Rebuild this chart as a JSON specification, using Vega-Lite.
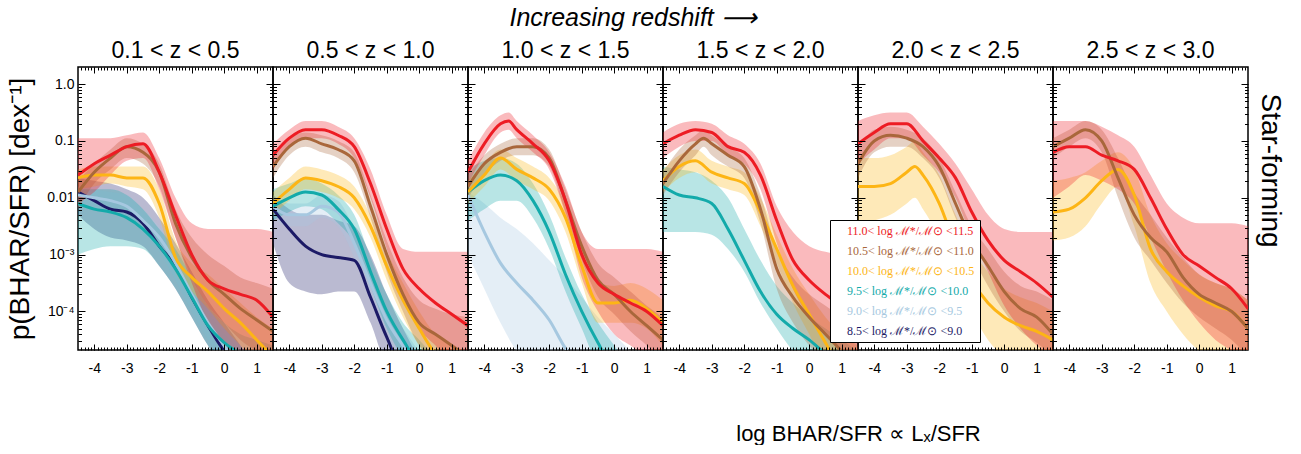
{
"$schema": "https://vega.github.io/schema/vega-lite/v6.json",
"background": "white",
"padding": {"left": 6, "top": 5, "right": 5, "bottom": 0},
"bounds": "flush",
"title": {"text": "Increasing redshift ⟶", "fontStyle": "italic", "fontSize": 25, "font": "Liberation Sans", "fontWeight": "normal", "anchor": "middle", "offset": 8, "dx": -12, "color": "black"},
"data": {"values": [
{"z":1,"m":"8.5","x":-4.5,"p":1.26e-2,"l":5.01e-3,"h":2.24e-2},
{"z":1,"m":"8.5","x":-4,"p":8.91e-3,"l":2.82e-3,"h":2.0e-2},
{"z":1,"m":"8.5","x":-3.5,"p":6.31e-3,"l":2.0e-3,"h":1.78e-2},
{"z":1,"m":"8.5","x":-3,"p":5.62e-3,"l":1.78e-3,"h":1.41e-2},
{"z":1,"m":"8.5","x":-2.5,"p":3.55e-3,"l":1.41e-3,"h":1e-2},
{"z":1,"m":"8.5","x":-2,"p":1.41e-3,"l":6.31e-4,"h":4.47e-3},
{"z":1,"m":"8.5","x":-1.5,"p":6.31e-4,"l":2.51e-4,"h":1.58e-3},
{"z":1,"m":"8.5","x":-1,"p":1.78e-4,"l":7.94e-5,"h":5.01e-4},
{"z":1,"m":"8.5","x":-0.5,"p":5.62e-5,"l":2.51e-5,"h":1.58e-4},
{"z":1,"m":"8.5","x":0,"p":2.0e-5,"l":1e-5,"h":6.31e-5},
{"z":1,"m":"8.5","x":0.5,"p":1e-5,"l":1e-5,"h":2.51e-5},
{"z":1,"m":"8.5","x":1,"p":1e-5,"l":1e-5,"h":1e-5},
{"z":1,"m":"8.5","x":1.5,"p":1e-5,"l":1e-5,"h":1e-5},
{"z":1,"m":"9.0","x":-4.5,"p":1.12e-2,"l":7.08e-3,"h":1.58e-2},
{"z":1,"m":"9.0","x":-4,"p":1e-2,"l":6.31e-3,"h":1.41e-2},
{"z":1,"m":"9.0","x":-3.5,"p":8.91e-3,"l":5.62e-3,"h":1.26e-2},
{"z":1,"m":"9.0","x":-3,"p":7.08e-3,"l":4.47e-3,"h":1.12e-2},
{"z":1,"m":"9.0","x":-2.5,"p":3.98e-3,"l":2.51e-3,"h":6.31e-3},
{"z":1,"m":"9.0","x":-2,"p":2.0e-3,"l":1.12e-3,"h":3.16e-3},
{"z":1,"m":"9.0","x":-1.5,"p":7.08e-4,"l":3.55e-4,"h":1.12e-3},
{"z":1,"m":"9.0","x":-1,"p":2.0e-4,"l":1e-4,"h":3.16e-4},
{"z":1,"m":"9.0","x":-0.5,"p":6.31e-5,"l":3.16e-5,"h":1e-4},
{"z":1,"m":"9.0","x":0,"p":2.51e-5,"l":1.26e-5,"h":3.98e-5},
{"z":1,"m":"9.0","x":0.5,"p":1e-5,"l":1e-5,"h":2.0e-5},
{"z":1,"m":"9.0","x":1,"p":1e-5,"l":1e-5,"h":1e-5},
{"z":1,"m":"9.0","x":1.5,"p":1e-5,"l":1e-5,"h":1e-5},
{"z":1,"m":"9.5","x":-4.5,"p":7.94e-3,"l":1e-3,"h":1.41e-2},
{"z":1,"m":"9.5","x":-4,"p":6.31e-3,"l":1.26e-3,"h":1.41e-2},
{"z":1,"m":"9.5","x":-3.5,"p":5.62e-3,"l":1.41e-3,"h":1.41e-2},
{"z":1,"m":"9.5","x":-3,"p":4.47e-3,"l":1.41e-3,"h":1.12e-2},
{"z":1,"m":"9.5","x":-2.5,"p":2.82e-3,"l":1.26e-3,"h":6.31e-3},
{"z":1,"m":"9.5","x":-2,"p":1.41e-3,"l":6.31e-4,"h":2.82e-3},
{"z":1,"m":"9.5","x":-1.5,"p":5.62e-4,"l":2.51e-4,"h":1.26e-3},
{"z":1,"m":"9.5","x":-1,"p":1.78e-4,"l":7.94e-5,"h":3.98e-4},
{"z":1,"m":"9.5","x":-0.5,"p":5.62e-5,"l":2.51e-5,"h":1.26e-4},
{"z":1,"m":"9.5","x":0,"p":2.82e-5,"l":1e-5,"h":6.31e-5},
{"z":1,"m":"9.5","x":0.5,"p":1.78e-5,"l":1e-5,"h":3.98e-5},
{"z":1,"m":"9.5","x":1,"p":1.26e-5,"l":1e-5,"h":3.16e-5},
{"z":1,"m":"9.5","x":1.5,"p":1e-5,"l":1e-5,"h":2.51e-5},
{"z":1,"m":"10.0","x":-4.5,"p":2.24e-2,"l":1.41e-2,"h":3.16e-2},
{"z":1,"m":"10.0","x":-4,"p":2.51e-2,"l":1.58e-2,"h":3.55e-2},
{"z":1,"m":"10.0","x":-3.5,"p":2.51e-2,"l":1.78e-2,"h":3.55e-2},
{"z":1,"m":"10.0","x":-3,"p":2.24e-2,"l":1.58e-2,"h":3.55e-2},
{"z":1,"m":"10.0","x":-2.5,"p":2.24e-2,"l":1.41e-2,"h":3.55e-2},
{"z":1,"m":"10.0","x":-2,"p":7.94e-3,"l":4.47e-3,"h":1.41e-2},
{"z":1,"m":"10.0","x":-1.5,"p":8.91e-4,"l":5.01e-4,"h":1.78e-3},
{"z":1,"m":"10.0","x":-1,"p":3.98e-4,"l":2.24e-4,"h":7.08e-4},
{"z":1,"m":"10.0","x":-0.5,"p":2.24e-4,"l":1.12e-4,"h":4.47e-4},
{"z":1,"m":"10.0","x":0,"p":1.12e-4,"l":5.01e-5,"h":2.51e-4},
{"z":1,"m":"10.0","x":0.5,"p":6.31e-5,"l":2.51e-5,"h":1.41e-4},
{"z":1,"m":"10.0","x":1,"p":3.16e-5,"l":1.26e-5,"h":7.94e-5},
{"z":1,"m":"10.0","x":1.5,"p":1.58e-5,"l":1e-5,"h":5.01e-5},
{"z":1,"m":"10.5","x":-4.5,"p":1.26e-2,"l":6.31e-3,"h":2.0e-2},
{"z":1,"m":"10.5","x":-4,"p":2.82e-2,"l":1.78e-2,"h":3.98e-2},
{"z":1,"m":"10.5","x":-3.5,"p":5.01e-2,"l":3.16e-2,"h":7.08e-2},
{"z":1,"m":"10.5","x":-3,"p":7.94e-2,"l":5.01e-2,"h":1.12e-1},
{"z":1,"m":"10.5","x":-2.5,"p":6.31e-2,"l":3.98e-2,"h":8.91e-2},
{"z":1,"m":"10.5","x":-2,"p":2.82e-2,"l":1.58e-2,"h":3.98e-2},
{"z":1,"m":"10.5","x":-1.5,"p":3.55e-3,"l":2.0e-3,"h":6.31e-3},
{"z":1,"m":"10.5","x":-1,"p":8.91e-4,"l":3.98e-4,"h":2.0e-3},
{"z":1,"m":"10.5","x":-0.5,"p":3.55e-4,"l":1.26e-4,"h":1e-3},
{"z":1,"m":"10.5","x":0,"p":2.0e-4,"l":6.31e-5,"h":6.31e-4},
{"z":1,"m":"10.5","x":0.5,"p":1.12e-4,"l":3.16e-5,"h":3.98e-4},
{"z":1,"m":"10.5","x":1,"p":7.08e-5,"l":2.0e-5,"h":3.16e-4},
{"z":1,"m":"10.5","x":1.5,"p":4.47e-5,"l":1.26e-5,"h":2.51e-4},
{"z":1,"m":"11.0","x":-4.5,"p":2.51e-2,"l":7.94e-3,"h":1.12e-1},
{"z":1,"m":"11.0","x":-4,"p":3.98e-2,"l":1.26e-2,"h":1.12e-1},
{"z":1,"m":"11.0","x":-3.5,"p":5.62e-2,"l":2.51e-2,"h":1.12e-1},
{"z":1,"m":"11.0","x":-3,"p":7.94e-2,"l":4.47e-2,"h":1.26e-1},
{"z":1,"m":"11.0","x":-2.5,"p":8.91e-2,"l":5.01e-2,"h":1.41e-1},
{"z":1,"m":"11.0","x":-2,"p":2.82e-2,"l":1.41e-2,"h":5.01e-2},
{"z":1,"m":"11.0","x":-1.5,"p":5.01e-3,"l":2.0e-3,"h":1e-2},
{"z":1,"m":"11.0","x":-1,"p":1e-3,"l":3.16e-4,"h":3.55e-3},
{"z":1,"m":"11.0","x":-0.5,"p":3.55e-4,"l":6.31e-5,"h":2.82e-3},
{"z":1,"m":"11.0","x":0,"p":2.51e-4,"l":2.51e-5,"h":2.82e-3},
{"z":1,"m":"11.0","x":0.5,"p":2.0e-4,"l":1.58e-5,"h":2.82e-3},
{"z":1,"m":"11.0","x":1,"p":1.58e-4,"l":1e-5,"h":2.82e-3},
{"z":1,"m":"11.0","x":1.5,"p":7.94e-5,"l":1e-5,"h":2.51e-3},

{"z":2,"m":"8.5","x":-4.5,"p":6.31e-3,"l":1.58e-3,"h":1.12e-2},
{"z":2,"m":"8.5","x":-4,"p":2.82e-3,"l":3.16e-4,"h":6.31e-3},
{"z":2,"m":"8.5","x":-3.5,"p":1.41e-3,"l":2.24e-4,"h":5.01e-3},
{"z":2,"m":"8.5","x":-3,"p":1e-3,"l":2.0e-4,"h":5.01e-3},
{"z":2,"m":"8.5","x":-2.5,"p":8.91e-4,"l":2.24e-4,"h":3.98e-3},
{"z":2,"m":"8.5","x":-2,"p":7.94e-4,"l":2.24e-4,"h":3.16e-3},
{"z":2,"m":"8.5","x":-1.5,"p":1.78e-4,"l":6.31e-5,"h":1e-3},
{"z":2,"m":"8.5","x":-1,"p":3.55e-5,"l":1.26e-5,"h":2.0e-4},
{"z":2,"m":"8.5","x":-0.5,"p":1e-5,"l":1e-5,"h":5.01e-5},
{"z":2,"m":"8.5","x":0,"p":1e-5,"l":1e-5,"h":1.58e-5},
{"z":2,"m":"8.5","x":0.5,"p":1e-5,"l":1e-5,"h":1e-5},
{"z":2,"m":"8.5","x":1,"p":1e-5,"l":1e-5,"h":1e-5},
{"z":2,"m":"8.5","x":1.5,"p":1e-5,"l":1e-5,"h":1e-5},
{"z":2,"m":"9.0","x":-4.5,"p":7.08e-3,"l":4.47e-3,"h":1.12e-2},
{"z":2,"m":"9.0","x":-4,"p":5.01e-3,"l":3.16e-3,"h":7.94e-3},
{"z":2,"m":"9.0","x":-3.5,"p":5.01e-3,"l":3.16e-3,"h":7.94e-3},
{"z":2,"m":"9.0","x":-3,"p":7.08e-3,"l":4.47e-3,"h":1.12e-2},
{"z":2,"m":"9.0","x":-2.5,"p":5.62e-3,"l":3.16e-3,"h":8.91e-3},
{"z":2,"m":"9.0","x":-2,"p":1.58e-3,"l":8.91e-4,"h":2.82e-3},
{"z":2,"m":"9.0","x":-1.5,"p":3.16e-4,"l":1.78e-4,"h":5.62e-4},
{"z":2,"m":"9.0","x":-1,"p":7.08e-5,"l":3.98e-5,"h":1.26e-4},
{"z":2,"m":"9.0","x":-0.5,"p":2.51e-5,"l":1.26e-5,"h":5.01e-5},
{"z":2,"m":"9.0","x":0,"p":1e-5,"l":1e-5,"h":2.0e-5},
{"z":2,"m":"9.0","x":0.5,"p":1e-5,"l":1e-5,"h":1e-5},
{"z":2,"m":"9.0","x":1,"p":1e-5,"l":1e-5,"h":1e-5},
{"z":2,"m":"9.0","x":1.5,"p":1e-5,"l":1e-5,"h":1e-5},
{"z":2,"m":"9.5","x":-4.5,"p":7.08e-3,"l":3.98e-3,"h":1.41e-2},
{"z":2,"m":"9.5","x":-4,"p":1e-2,"l":5.62e-3,"h":1.78e-2},
{"z":2,"m":"9.5","x":-3.5,"p":1.26e-2,"l":7.08e-3,"h":2.24e-2},
{"z":2,"m":"9.5","x":-3,"p":1.12e-2,"l":6.31e-3,"h":1.78e-2},
{"z":2,"m":"9.5","x":-2.5,"p":6.31e-3,"l":3.55e-3,"h":1.12e-2},
{"z":2,"m":"9.5","x":-2,"p":2.82e-3,"l":1.58e-3,"h":5.01e-3},
{"z":2,"m":"9.5","x":-1.5,"p":5.01e-4,"l":2.82e-4,"h":8.91e-4},
{"z":2,"m":"9.5","x":-1,"p":1e-4,"l":5.01e-5,"h":2.0e-4},
{"z":2,"m":"9.5","x":-0.5,"p":3.16e-5,"l":1.58e-5,"h":6.31e-5},
{"z":2,"m":"9.5","x":0,"p":1.26e-5,"l":1e-5,"h":3.16e-5},
{"z":2,"m":"9.5","x":0.5,"p":1e-5,"l":1e-5,"h":1.58e-5},
{"z":2,"m":"9.5","x":1,"p":1e-5,"l":1e-5,"h":1e-5},
{"z":2,"m":"9.5","x":1.5,"p":1e-5,"l":1e-5,"h":1e-5},
{"z":2,"m":"10.0","x":-4.5,"p":7.94e-3,"l":5.01e-3,"h":1.26e-2},
{"z":2,"m":"10.0","x":-4,"p":1.41e-2,"l":8.91e-3,"h":2.24e-2},
{"z":2,"m":"10.0","x":-3.5,"p":2.24e-2,"l":1.41e-2,"h":3.55e-2},
{"z":2,"m":"10.0","x":-3,"p":2.0e-2,"l":1.26e-2,"h":3.16e-2},
{"z":2,"m":"10.0","x":-2.5,"p":1.58e-2,"l":1e-2,"h":2.51e-2},
{"z":2,"m":"10.0","x":-2,"p":1e-2,"l":6.31e-3,"h":1.58e-2},
{"z":2,"m":"10.0","x":-1.5,"p":3.16e-3,"l":2.0e-3,"h":5.01e-3},
{"z":2,"m":"10.0","x":-1,"p":6.31e-4,"l":3.55e-4,"h":1.12e-3},
{"z":2,"m":"10.0","x":-0.5,"p":1.58e-4,"l":7.94e-5,"h":3.16e-4},
{"z":2,"m":"10.0","x":0,"p":5.01e-5,"l":2.51e-5,"h":1e-4},
{"z":2,"m":"10.0","x":0.5,"p":1.78e-5,"l":1e-5,"h":3.98e-5},
{"z":2,"m":"10.0","x":1,"p":1e-5,"l":1e-5,"h":2.51e-5},
{"z":2,"m":"10.0","x":1.5,"p":1e-5,"l":1e-5,"h":2.0e-5},
{"z":2,"m":"10.5","x":-4.5,"p":3.55e-2,"l":2.24e-2,"h":5.01e-2},
{"z":2,"m":"10.5","x":-4,"p":7.94e-2,"l":5.62e-2,"h":1.12e-1},
{"z":2,"m":"10.5","x":-3.5,"p":1.12e-1,"l":7.94e-2,"h":1.41e-1},
{"z":2,"m":"10.5","x":-3,"p":8.91e-2,"l":6.31e-2,"h":1.26e-1},
{"z":2,"m":"10.5","x":-2.5,"p":7.08e-2,"l":5.01e-2,"h":1e-1},
{"z":2,"m":"10.5","x":-2,"p":4.47e-2,"l":2.82e-2,"h":6.31e-2},
{"z":2,"m":"10.5","x":-1.5,"p":7.08e-3,"l":4.47e-3,"h":1.12e-2},
{"z":2,"m":"10.5","x":-1,"p":1e-3,"l":5.01e-4,"h":1.78e-3},
{"z":2,"m":"10.5","x":-0.5,"p":2.0e-4,"l":1e-4,"h":3.98e-4},
{"z":2,"m":"10.5","x":0,"p":6.31e-5,"l":2.51e-5,"h":1.58e-4},
{"z":2,"m":"10.5","x":0.5,"p":3.98e-5,"l":1.58e-5,"h":1.12e-4},
{"z":2,"m":"10.5","x":1,"p":2.51e-5,"l":1e-5,"h":8.91e-5},
{"z":2,"m":"10.5","x":1.5,"p":1.58e-5,"l":1e-5,"h":7.94e-5},
{"z":2,"m":"11.0","x":-4.5,"p":5.62e-2,"l":3.16e-2,"h":8.91e-2},
{"z":2,"m":"11.0","x":-4,"p":1.12e-1,"l":7.94e-2,"h":1.58e-1},
{"z":2,"m":"11.0","x":-3.5,"p":1.58e-1,"l":1.12e-1,"h":2.24e-1},
{"z":2,"m":"11.0","x":-3,"p":1.58e-1,"l":1.12e-1,"h":2.24e-1},
{"z":2,"m":"11.0","x":-2.5,"p":1.26e-1,"l":8.91e-2,"h":1.78e-1},
{"z":2,"m":"11.0","x":-2,"p":7.94e-2,"l":5.01e-2,"h":1.12e-1},
{"z":2,"m":"11.0","x":-1.5,"p":1.78e-2,"l":1e-2,"h":3.16e-2},
{"z":2,"m":"11.0","x":-1,"p":2.82e-3,"l":1.26e-3,"h":5.01e-3},
{"z":2,"m":"11.0","x":-0.5,"p":5.62e-4,"l":2.0e-4,"h":1.26e-3},
{"z":2,"m":"11.0","x":0,"p":2.51e-4,"l":5.01e-5,"h":1.12e-3},
{"z":2,"m":"11.0","x":0.5,"p":1.41e-4,"l":2.51e-5,"h":1.12e-3},
{"z":2,"m":"11.0","x":1,"p":8.91e-5,"l":1.26e-5,"h":1.12e-3},
{"z":2,"m":"11.0","x":1.5,"p":5.62e-5,"l":1e-5,"h":1.12e-3},

{"z":3,"m":"9.0","x":-4.5,"p":1.12e-2,"l":1e-3,"h":1.26e-2},
{"z":3,"m":"9.0","x":-4,"p":2.51e-3,"l":2.51e-4,"h":7.94e-3},
{"z":3,"m":"9.0","x":-3.5,"p":7.08e-4,"l":6.31e-5,"h":4.47e-3},
{"z":3,"m":"9.0","x":-3,"p":3.16e-4,"l":2.0e-5,"h":2.82e-3},
{"z":3,"m":"9.0","x":-2.5,"p":1.58e-4,"l":1e-5,"h":1.58e-3},
{"z":3,"m":"9.0","x":-2,"p":7.08e-5,"l":1e-5,"h":7.94e-4},
{"z":3,"m":"9.0","x":-1.5,"p":2.24e-5,"l":1e-5,"h":3.98e-4},
{"z":3,"m":"9.0","x":-1,"p":1e-5,"l":1e-5,"h":1.78e-4},
{"z":3,"m":"9.0","x":-0.5,"p":1e-5,"l":1e-5,"h":7.94e-5},
{"z":3,"m":"9.0","x":0,"p":1e-5,"l":1e-5,"h":3.98e-5},
{"z":3,"m":"9.0","x":0.5,"p":1e-5,"l":1e-5,"h":2.0e-5},
{"z":3,"m":"9.0","x":1,"p":1e-5,"l":1e-5,"h":1e-5},
{"z":3,"m":"9.0","x":1.5,"p":1e-5,"l":1e-5,"h":1e-5},
{"z":3,"m":"9.5","x":-4.5,"p":1.26e-2,"l":3.98e-3,"h":3.16e-2},
{"z":3,"m":"9.5","x":-4,"p":2.0e-2,"l":6.31e-3,"h":4.47e-2},
{"z":3,"m":"9.5","x":-3.5,"p":2.51e-2,"l":8.91e-3,"h":5.01e-2},
{"z":3,"m":"9.5","x":-3,"p":2.0e-2,"l":8.91e-3,"h":3.98e-2},
{"z":3,"m":"9.5","x":-2.5,"p":8.91e-3,"l":4.47e-3,"h":1.78e-2},
{"z":3,"m":"9.5","x":-2,"p":2.51e-3,"l":1.26e-3,"h":5.01e-3},
{"z":3,"m":"9.5","x":-1.5,"p":4.47e-4,"l":2.24e-4,"h":8.91e-4},
{"z":3,"m":"9.5","x":-1,"p":1e-4,"l":5.01e-5,"h":2.0e-4},
{"z":3,"m":"9.5","x":-0.5,"p":2.82e-5,"l":1.26e-5,"h":6.31e-5},
{"z":3,"m":"9.5","x":0,"p":1e-5,"l":1e-5,"h":2.51e-5},
{"z":3,"m":"9.5","x":0.5,"p":1e-5,"l":1e-5,"h":1e-5},
{"z":3,"m":"9.5","x":1,"p":1e-5,"l":1e-5,"h":1e-5},
{"z":3,"m":"9.5","x":1.5,"p":1e-5,"l":1e-5,"h":1e-5},
{"z":3,"m":"10.0","x":-4.5,"p":1.26e-2,"l":7.94e-3,"h":2.0e-2},
{"z":3,"m":"10.0","x":-4,"p":2.51e-2,"l":1.58e-2,"h":3.98e-2},
{"z":3,"m":"10.0","x":-3.5,"p":5.01e-2,"l":3.16e-2,"h":7.08e-2},
{"z":3,"m":"10.0","x":-3,"p":3.16e-2,"l":2.0e-2,"h":5.01e-2},
{"z":3,"m":"10.0","x":-2.5,"p":2.24e-2,"l":1.41e-2,"h":3.55e-2},
{"z":3,"m":"10.0","x":-2,"p":1.41e-2,"l":8.91e-3,"h":2.24e-2},
{"z":3,"m":"10.0","x":-1.5,"p":4.47e-3,"l":2.51e-3,"h":7.94e-3},
{"z":3,"m":"10.0","x":-1,"p":6.31e-4,"l":3.16e-4,"h":1.26e-3},
{"z":3,"m":"10.0","x":-0.5,"p":1.41e-4,"l":6.31e-5,"h":3.16e-4},
{"z":3,"m":"10.0","x":0,"p":1.41e-4,"l":6.31e-5,"h":2.82e-4},
{"z":3,"m":"10.0","x":0.5,"p":1.58e-4,"l":6.31e-5,"h":3.16e-4},
{"z":3,"m":"10.0","x":1,"p":1.12e-4,"l":5.01e-5,"h":2.51e-4},
{"z":3,"m":"10.0","x":1.5,"p":6.31e-5,"l":2.51e-5,"h":1.58e-4},
{"z":3,"m":"10.5","x":-4.5,"p":1.58e-2,"l":1e-2,"h":2.51e-2},
{"z":3,"m":"10.5","x":-4,"p":3.98e-2,"l":2.51e-2,"h":5.62e-2},
{"z":3,"m":"10.5","x":-3.5,"p":6.31e-2,"l":4.47e-2,"h":8.91e-2},
{"z":3,"m":"10.5","x":-3,"p":7.94e-2,"l":5.62e-2,"h":1.12e-1},
{"z":3,"m":"10.5","x":-2.5,"p":7.94e-2,"l":5.62e-2,"h":1.12e-1},
{"z":3,"m":"10.5","x":-2,"p":5.01e-2,"l":3.55e-2,"h":7.08e-2},
{"z":3,"m":"10.5","x":-1.5,"p":8.91e-3,"l":5.62e-3,"h":1.41e-2},
{"z":3,"m":"10.5","x":-1,"p":1.41e-3,"l":7.94e-4,"h":2.51e-3},
{"z":3,"m":"10.5","x":-0.5,"p":3.55e-4,"l":1.78e-4,"h":7.08e-4},
{"z":3,"m":"10.5","x":0,"p":2.0e-4,"l":8.91e-5,"h":3.98e-4},
{"z":3,"m":"10.5","x":0.5,"p":1e-4,"l":4.47e-5,"h":2.24e-4},
{"z":3,"m":"10.5","x":1,"p":5.62e-5,"l":2.51e-5,"h":1.26e-4},
{"z":3,"m":"10.5","x":1.5,"p":3.16e-5,"l":1.26e-5,"h":7.94e-5},
{"z":3,"m":"11.0","x":-4.5,"p":2.82e-2,"l":1.78e-2,"h":4.47e-2},
{"z":3,"m":"11.0","x":-4,"p":8.91e-2,"l":5.62e-2,"h":1.41e-1},
{"z":3,"m":"11.0","x":-3.5,"p":2.0e-1,"l":1.41e-1,"h":2.82e-1},
{"z":3,"m":"11.0","x":-3.25,"p":2.24e-1,"l":1.58e-1,"h":3.16e-1},
{"z":3,"m":"11.0","x":-3,"p":1.58e-1,"l":1.12e-1,"h":2.24e-1},
{"z":3,"m":"11.0","x":-2.5,"p":8.91e-2,"l":6.31e-2,"h":1.26e-1},
{"z":3,"m":"11.0","x":-2,"p":4.47e-2,"l":3.16e-2,"h":6.31e-2},
{"z":3,"m":"11.0","x":-1.5,"p":8.91e-3,"l":5.01e-3,"h":1.58e-2},
{"z":3,"m":"11.0","x":-1,"p":1e-3,"l":3.98e-4,"h":2.51e-3},
{"z":3,"m":"11.0","x":-0.5,"p":3.16e-4,"l":1e-4,"h":1.26e-3},
{"z":3,"m":"11.0","x":0,"p":2.0e-4,"l":3.98e-5,"h":1.26e-3},
{"z":3,"m":"11.0","x":0.5,"p":1.41e-4,"l":2.51e-5,"h":1.26e-3},
{"z":3,"m":"11.0","x":1,"p":1e-4,"l":1.58e-5,"h":1.26e-3},
{"z":3,"m":"11.0","x":1.5,"p":5.62e-5,"l":1e-5,"h":1.12e-3},

{"z":4,"m":"9.5","x":-4.5,"p":1.58e-2,"l":2.51e-3,"h":3.55e-2},
{"z":4,"m":"9.5","x":-4,"p":1.12e-2,"l":2.51e-3,"h":3.16e-2},
{"z":4,"m":"9.5","x":-3.5,"p":1e-2,"l":2.51e-3,"h":2.82e-2},
{"z":4,"m":"9.5","x":-3,"p":7.94e-3,"l":2.24e-3,"h":2.0e-2},
{"z":4,"m":"9.5","x":-2.5,"p":2.82e-3,"l":1.26e-3,"h":1e-2},
{"z":4,"m":"9.5","x":-2,"p":7.94e-4,"l":5.01e-4,"h":2.82e-3},
{"z":4,"m":"9.5","x":-1.5,"p":2.24e-4,"l":1.41e-4,"h":7.94e-4},
{"z":4,"m":"9.5","x":-1,"p":8.91e-5,"l":5.01e-5,"h":2.82e-4},
{"z":4,"m":"9.5","x":-0.5,"p":5.01e-5,"l":2.0e-5,"h":1.41e-4},
{"z":4,"m":"9.5","x":0,"p":3.16e-5,"l":1e-5,"h":7.94e-5},
{"z":4,"m":"9.5","x":0.5,"p":1.78e-5,"l":1e-5,"h":5.01e-5},
{"z":4,"m":"9.5","x":1,"p":1e-5,"l":1e-5,"h":3.16e-5},
{"z":4,"m":"9.5","x":1.5,"p":1e-5,"l":1e-5,"h":2.0e-5},
{"z":4,"m":"10.0","x":-4.5,"p":2.0e-2,"l":1.26e-2,"h":3.16e-2},
{"z":4,"m":"10.0","x":-4,"p":3.55e-2,"l":2.24e-2,"h":5.62e-2},
{"z":4,"m":"10.0","x":-3.5,"p":4.47e-2,"l":2.82e-2,"h":7.08e-2},
{"z":4,"m":"10.0","x":-3,"p":2.82e-2,"l":1.78e-2,"h":4.47e-2},
{"z":4,"m":"10.0","x":-2.5,"p":2.24e-2,"l":1.41e-2,"h":3.55e-2},
{"z":4,"m":"10.0","x":-2,"p":1.78e-2,"l":1.12e-2,"h":2.82e-2},
{"z":4,"m":"10.0","x":-1.5,"p":5.62e-3,"l":3.16e-3,"h":1e-2},
{"z":4,"m":"10.0","x":-1,"p":1.26e-3,"l":7.08e-4,"h":2.24e-3},
{"z":4,"m":"10.0","x":-0.5,"p":2.82e-4,"l":1.41e-4,"h":5.62e-4},
{"z":4,"m":"10.0","x":0,"p":8.91e-5,"l":3.98e-5,"h":2.0e-4},
{"z":4,"m":"10.0","x":0.5,"p":2.82e-5,"l":1.26e-5,"h":7.94e-5},
{"z":4,"m":"10.0","x":1,"p":1e-5,"l":1e-5,"h":3.98e-5},
{"z":4,"m":"10.0","x":1.5,"p":1e-5,"l":1e-5,"h":2.51e-5},
{"z":4,"m":"10.5","x":-4.5,"p":1.78e-2,"l":1.12e-2,"h":2.82e-2},
{"z":4,"m":"10.5","x":-4,"p":4.47e-2,"l":2.82e-2,"h":7.08e-2},
{"z":4,"m":"10.5","x":-3.5,"p":8.91e-2,"l":5.62e-2,"h":1.26e-1},
{"z":4,"m":"10.5","x":-3.25,"p":1.12e-1,"l":7.94e-2,"h":1.58e-1},
{"z":4,"m":"10.5","x":-3,"p":8.91e-2,"l":5.62e-2,"h":1.26e-1},
{"z":4,"m":"10.5","x":-2.5,"p":5.62e-2,"l":3.55e-2,"h":7.94e-2},
{"z":4,"m":"10.5","x":-2,"p":3.55e-2,"l":2.24e-2,"h":5.01e-2},
{"z":4,"m":"10.5","x":-1.5,"p":6.31e-3,"l":3.55e-3,"h":1.12e-2},
{"z":4,"m":"10.5","x":-1,"p":5.62e-4,"l":2.51e-4,"h":1.26e-3},
{"z":4,"m":"10.5","x":-0.5,"p":1.78e-4,"l":6.31e-5,"h":3.98e-4},
{"z":4,"m":"10.5","x":0,"p":7.94e-5,"l":2.51e-5,"h":2.0e-4},
{"z":4,"m":"10.5","x":0.5,"p":3.98e-5,"l":1.26e-5,"h":1.26e-4},
{"z":4,"m":"10.5","x":1,"p":2.0e-5,"l":1e-5,"h":7.94e-5},
{"z":4,"m":"10.5","x":1.5,"p":1e-5,"l":1e-5,"h":5.01e-5},
{"z":4,"m":"11.0","x":-4.5,"p":8.91e-2,"l":5.01e-2,"h":1.41e-1},
{"z":4,"m":"11.0","x":-4,"p":1.26e-1,"l":7.94e-2,"h":2.0e-1},
{"z":4,"m":"11.0","x":-3.5,"p":1.58e-1,"l":1e-1,"h":2.24e-1},
{"z":4,"m":"11.0","x":-3,"p":1.41e-1,"l":1e-1,"h":2.0e-1},
{"z":4,"m":"11.0","x":-2.5,"p":7.94e-2,"l":5.62e-2,"h":1.26e-1},
{"z":4,"m":"11.0","x":-2,"p":6.31e-2,"l":3.98e-2,"h":8.91e-2},
{"z":4,"m":"11.0","x":-1.5,"p":2.51e-2,"l":1.41e-2,"h":3.98e-2},
{"z":4,"m":"11.0","x":-1,"p":3.98e-3,"l":1.58e-3,"h":7.08e-3},
{"z":4,"m":"11.0","x":-0.5,"p":7.94e-4,"l":2.51e-4,"h":2.51e-3},
{"z":4,"m":"11.0","x":0,"p":3.55e-4,"l":7.94e-5,"h":1.41e-3},
{"z":4,"m":"11.0","x":0.5,"p":2.0e-4,"l":3.98e-5,"h":1.12e-3},
{"z":4,"m":"11.0","x":1,"p":1.26e-4,"l":2.0e-5,"h":1e-3},
{"z":4,"m":"11.0","x":1.5,"p":7.94e-5,"l":1e-5,"h":8.91e-4},

{"z":5,"m":"10.0","x":-4.5,"p":1.58e-2,"l":3.16e-3,"h":5.01e-2},
{"z":5,"m":"10.0","x":-4,"p":1.58e-2,"l":3.98e-3,"h":5.01e-2},
{"z":5,"m":"10.0","x":-3.5,"p":1.78e-2,"l":5.01e-3,"h":5.62e-2},
{"z":5,"m":"10.0","x":-3,"p":2.82e-2,"l":7.94e-3,"h":7.94e-2},
{"z":5,"m":"10.0","x":-2.75,"p":3.55e-2,"l":1e-2,"h":1e-1},
{"z":5,"m":"10.0","x":-2.5,"p":2.51e-2,"l":6.31e-3,"h":6.31e-2},
{"z":5,"m":"10.0","x":-2,"p":7.94e-3,"l":2.0e-3,"h":2.51e-2},
{"z":5,"m":"10.0","x":-1.5,"p":1.41e-3,"l":3.98e-4,"h":5.01e-3},
{"z":5,"m":"10.0","x":-1,"p":3.55e-4,"l":1e-4,"h":1.26e-3},
{"z":5,"m":"10.0","x":-0.5,"p":1.41e-4,"l":3.16e-5,"h":5.01e-4},
{"z":5,"m":"10.0","x":0,"p":7.94e-5,"l":1.58e-5,"h":2.51e-4},
{"z":5,"m":"10.0","x":0.5,"p":5.62e-5,"l":1e-5,"h":1.78e-4},
{"z":5,"m":"10.0","x":1,"p":4.47e-5,"l":1e-5,"h":1.41e-4},
{"z":5,"m":"10.0","x":1.5,"p":3.16e-5,"l":1e-5,"h":1e-4},
{"z":5,"m":"10.5","x":-4.5,"p":3.98e-2,"l":2.24e-2,"h":7.08e-2},
{"z":5,"m":"10.5","x":-4,"p":1e-1,"l":6.31e-2,"h":1.58e-1},
{"z":5,"m":"10.5","x":-3.5,"p":1.26e-1,"l":7.94e-2,"h":1.78e-1},
{"z":5,"m":"10.5","x":-3,"p":1.12e-1,"l":7.94e-2,"h":1.58e-1},
{"z":5,"m":"10.5","x":-2.5,"p":7.94e-2,"l":5.01e-2,"h":1.12e-1},
{"z":5,"m":"10.5","x":-2,"p":3.55e-2,"l":2.24e-2,"h":5.01e-2},
{"z":5,"m":"10.5","x":-1.5,"p":7.94e-3,"l":4.47e-3,"h":1.26e-2},
{"z":5,"m":"10.5","x":-1,"p":1.78e-3,"l":1e-3,"h":3.16e-3},
{"z":5,"m":"10.5","x":-0.5,"p":6.31e-4,"l":2.82e-4,"h":1.26e-3},
{"z":5,"m":"10.5","x":0,"p":2.24e-4,"l":1e-4,"h":5.01e-4},
{"z":5,"m":"10.5","x":0.5,"p":1.12e-4,"l":4.47e-5,"h":2.82e-4},
{"z":5,"m":"10.5","x":1,"p":7.94e-5,"l":2.82e-5,"h":2.24e-4},
{"z":5,"m":"10.5","x":1.5,"p":3.98e-5,"l":1.58e-5,"h":1.58e-4},
{"z":5,"m":"11.0","x":-4.5,"p":8.91e-2,"l":3.98e-2,"h":2.24e-1},
{"z":5,"m":"11.0","x":-4,"p":1.41e-1,"l":7.08e-2,"h":2.82e-1},
{"z":5,"m":"11.0","x":-3.5,"p":2.0e-1,"l":1.12e-1,"h":3.16e-1},
{"z":5,"m":"11.0","x":-3,"p":2.0e-1,"l":1.12e-1,"h":3.16e-1},
{"z":5,"m":"11.0","x":-2.5,"p":1e-1,"l":5.62e-2,"h":1.78e-1},
{"z":5,"m":"11.0","x":-2,"p":5.01e-2,"l":2.82e-2,"h":8.91e-2},
{"z":5,"m":"11.0","x":-1.5,"p":2.24e-2,"l":1e-2,"h":3.98e-2},
{"z":5,"m":"11.0","x":-1,"p":5.62e-3,"l":2.0e-3,"h":1.41e-2},
{"z":5,"m":"11.0","x":-0.5,"p":1.78e-3,"l":5.01e-4,"h":5.01e-3},
{"z":5,"m":"11.0","x":0,"p":7.94e-4,"l":1.26e-4,"h":2.82e-3},
{"z":5,"m":"11.0","x":0.5,"p":5.01e-4,"l":5.01e-5,"h":2.51e-3},
{"z":5,"m":"11.0","x":1,"p":3.16e-4,"l":2.51e-5,"h":2.51e-3},
{"z":5,"m":"11.0","x":1.5,"p":1.78e-4,"l":1.58e-5,"h":2.51e-3},

{"z":6,"m":"10.0","x":-4.5,"p":5.62e-3,"l":1.78e-3,"h":2.0e-2},
{"z":6,"m":"10.0","x":-4,"p":6.31e-3,"l":2.0e-3,"h":2.24e-2},
{"z":6,"m":"10.0","x":-3.5,"p":1e-2,"l":3.16e-3,"h":2.82e-2},
{"z":6,"m":"10.0","x":-3,"p":2.0e-2,"l":7.94e-3,"h":4.47e-2},
{"z":6,"m":"10.0","x":-2.5,"p":3.16e-2,"l":1.58e-2,"h":6.31e-2},
{"z":6,"m":"10.0","x":-2,"p":1.12e-2,"l":3.16e-3,"h":3.16e-2},
{"z":6,"m":"10.0","x":-1.5,"p":1.26e-3,"l":3.16e-4,"h":5.01e-3},
{"z":6,"m":"10.0","x":-1,"p":5.01e-4,"l":1e-4,"h":1.58e-3},
{"z":6,"m":"10.0","x":-0.5,"p":2.82e-4,"l":3.98e-5,"h":7.94e-4},
{"z":6,"m":"10.0","x":0,"p":1.78e-4,"l":2.0e-5,"h":4.47e-4},
{"z":6,"m":"10.0","x":0.5,"p":1.26e-4,"l":1.26e-5,"h":3.16e-4},
{"z":6,"m":"10.0","x":1,"p":1e-4,"l":1e-5,"h":2.51e-4},
{"z":6,"m":"10.0","x":1.5,"p":5.01e-5,"l":1e-5,"h":1.58e-4},
{"z":6,"m":"10.5","x":-4.5,"p":7.94e-2,"l":5.01e-2,"h":1.12e-1},
{"z":6,"m":"10.5","x":-4,"p":1.12e-1,"l":7.94e-2,"h":1.58e-1},
{"z":6,"m":"10.5","x":-3.5,"p":1.58e-1,"l":1.12e-1,"h":2.24e-1},
{"z":6,"m":"10.5","x":-3,"p":1e-1,"l":6.31e-2,"h":1.58e-1},
{"z":6,"m":"10.5","x":-2.5,"p":2.24e-2,"l":1e-2,"h":5.01e-2},
{"z":6,"m":"10.5","x":-2,"p":5.01e-3,"l":2.0e-3,"h":1.26e-2},
{"z":6,"m":"10.5","x":-1.5,"p":2.0e-3,"l":7.94e-4,"h":5.01e-3},
{"z":6,"m":"10.5","x":-1,"p":1.12e-3,"l":3.16e-4,"h":2.0e-3},
{"z":6,"m":"10.5","x":-0.5,"p":3.98e-4,"l":1.41e-4,"h":8.91e-4},
{"z":6,"m":"10.5","x":0,"p":2.0e-4,"l":7.94e-5,"h":4.47e-4},
{"z":6,"m":"10.5","x":0.5,"p":1.41e-4,"l":5.01e-5,"h":3.16e-4},
{"z":6,"m":"10.5","x":1,"p":1e-4,"l":3.16e-5,"h":2.51e-4},
{"z":6,"m":"10.5","x":1.5,"p":5.01e-5,"l":1.58e-5,"h":1.58e-4},
{"z":6,"m":"11.0","x":-4.5,"p":6.31e-2,"l":1e-2,"h":2.24e-1},
{"z":6,"m":"11.0","x":-4,"p":7.94e-2,"l":1.58e-2,"h":2.24e-1},
{"z":6,"m":"11.0","x":-3.5,"p":7.94e-2,"l":2.51e-2,"h":2.24e-1},
{"z":6,"m":"11.0","x":-3,"p":5.62e-2,"l":2.0e-2,"h":1.78e-1},
{"z":6,"m":"11.0","x":-2.5,"p":4.47e-2,"l":1.41e-2,"h":1.26e-1},
{"z":6,"m":"11.0","x":-2,"p":3.16e-2,"l":7.94e-3,"h":7.94e-2},
{"z":6,"m":"11.0","x":-1.5,"p":1e-2,"l":2.0e-3,"h":2.51e-2},
{"z":6,"m":"11.0","x":-1,"p":2.82e-3,"l":5.01e-4,"h":7.94e-3},
{"z":6,"m":"11.0","x":-0.5,"p":1e-3,"l":1.58e-4,"h":4.47e-3},
{"z":6,"m":"11.0","x":0,"p":6.31e-4,"l":6.31e-5,"h":3.55e-3},
{"z":6,"m":"11.0","x":0.5,"p":3.98e-4,"l":3.16e-5,"h":3.55e-3},
{"z":6,"m":"11.0","x":1,"p":2.51e-4,"l":2.0e-5,"h":3.55e-3},
{"z":6,"m":"11.0","x":1.5,"p":1.12e-4,"l":1e-5,"h":3.16e-3}
]},
"spacing": 0,
"hconcat": [
{"width":195,"height":283,"title":"0.1 < z < 0.5","transform":[{"filter":"datum.z == 1"}],
"layer":[
{"mark":{"type":"area","interpolate":"monotone","clip":true,"opacity":0.3},
"encoding":{"x":{"field":"x","type":"quantitative","scale":{"domain":[-4.5,1.5],"nice":false,"zero":false},"axis":{"orient":"bottom","values":[-4,-3,-2,-1,0,1],"ticks":false,"labelExpr":"'' + datum.value","labelPadding":11,"title":null}},
"y":{"field":"l","type":"quantitative","scale":{"type":"log","domain":[2.1e-5,2],"nice":false},"axis":{"orient":"left","values":[0.0001,0.001,0.01,0.1,1],"ticks":false,"labelPadding":4,"labelExpr":"datum.value > 0.5 ? '1.0' : datum.value > 0.05 ? '0.1' : datum.value > 0.005 ? '0.01' : datum.value > 0.0005 ? '10⁻³' : '10⁻⁴'","title":"p(BHAR/SFR)  [dex⁻¹]","titleFontSize":28,"titlePadding":12}},
"y2":{"field":"h"},
"color":{"field":"m","type":"nominal","scale":{"domain":["11.0","10.5","10.0","9.5","9.0","8.5"],"range":["#ED1C24","#A9673B","#FDB515","#13AAAA","#A6C8E0","#1C1A66"]},
"legend":{"orient":"none","legendX":752,"legendY":153,"title":null,"symbolSize":0,"symbolStrokeWidth":0,"symbolOpacity":0,"labelFont":"Liberation Serif","labelFontSize":12,"rowPadding":8,"padding":5,"strokeColor":"black","fillColor":"white","labelOffset":0,
"labelColor":{"expr":"datum.value == '11.0' ? '#ED1C24' : datum.value == '10.5' ? '#A9673B' : datum.value == '10.0' ? '#FDB515' : datum.value == '9.5' ? '#13AAAA' : datum.value == '9.0' ? '#A6C8E0' : '#1C1A66'"},
"labelExpr":"datum.label == '11.0' ? '11.0< log ℳ*/ℳ⊙ <11.5' : datum.label == '10.5' ? '10.5< log ℳ*/ℳ⊙ <11.0' : datum.label == '10.0' ? '10.0< log ℳ*/ℳ⊙ <10.5' : datum.label == '9.5' ? '9.5< log ℳ*/ℳ⊙ <10.0' : datum.label == '9.0' ? '9.0< log ℳ*/ℳ⊙ <9.5' : '8.5< log ℳ*/ℳ⊙ <9.0'"}}}},
{"mark":{"type":"line","interpolate":"monotone","clip":true,"strokeWidth":3},
"encoding":{"x":{"field":"x","type":"quantitative","scale":{"domain":[-4.5,1.5],"nice":false,"zero":false},"axis":{"orient":"bottom","values":[-4,-3,-2,-1,0,1],"labels":false,"tickSize":6,"offset":-6,"title":null,"zindex":1}},
"y":{"field":"p","type":"quantitative","scale":{"type":"log","domain":[2.1e-5,2],"nice":false},"axis":{"orient":"left","values":[0.0001,0.001,0.01,0.1,1],"labels":false,"tickSize":7,"offset":-7,"title":null,"zindex":1}},
"color":{"field":"m","type":"nominal"}}},
{"mark":{"type":"point","opacity":0,"clip":true},
"encoding":{"x":{"field":"x","type":"quantitative","scale":{"domain":[-4.5,1.5],"nice":false,"zero":false},"axis":{"orient":"bottom","values":[-4.4,-4.3,-4.2,-4.1,-4,-3.9,-3.8,-3.7,-3.6,-3.5,-3.4,-3.3,-3.2,-3.1,-3,-2.9,-2.8,-2.7,-2.6,-2.5,-2.4,-2.3,-2.2,-2.1,-2,-1.9,-1.8,-1.7,-1.6,-1.5,-1.4,-1.3,-1.2,-1.1,-1,-0.9,-0.8,-0.7,-0.6,-0.5,-0.4,-0.3,-0.2,-0.1,0,0.1,0.2,0.3,0.4,0.5,0.6,0.7,0.8,0.9,1,1.1,1.2,1.3,1.4],"labels":false,"tickSize":3,"offset":-3,"title":null,"zindex":1}},
"y":{"field":"p","type":"quantitative","scale":{"type":"log","domain":[2.1e-5,2],"nice":false},"axis":{"orient":"left","values":[3e-5,4e-5,5e-5,6e-5,7e-5,8e-5,9e-5,2e-4,3e-4,4e-4,5e-4,6e-4,7e-4,8e-4,9e-4,2e-3,3e-3,4e-3,5e-3,6e-3,7e-3,8e-3,9e-3,0.02,0.03,0.04,0.05,0.06,0.07,0.08,0.09,0.2,0.3,0.4,0.5,0.6,0.7,0.8,0.9],"labels":false,"tickSize":3.5,"offset":-3.5,"title":null,"zindex":1}}}},
{"mark":{"type":"point","opacity":0,"clip":true},
"encoding":{"x":{"field":"x","type":"quantitative","scale":{"domain":[-4.5,1.5],"nice":false,"zero":false},"axis":{"orient":"top","values":[-4,-3,-2,-1,0,1],"labels":false,"tickSize":6,"offset":-6,"title":null,"zindex":1}},
"y":{"field":"p","type":"quantitative","scale":{"type":"log","domain":[2.1e-5,2],"nice":false},"axis":{"orient":"right","values":[0.0001,0.001,0.01,0.1,1],"labels":false,"tickSize":7,"offset":-7,"title":null,"zindex":1}}}},
{"mark":{"type":"point","opacity":0,"clip":true},
"encoding":{"x":{"field":"x","type":"quantitative","scale":{"domain":[-4.5,1.5],"nice":false,"zero":false},"axis":{"orient":"top","values":[-4.4,-4.3,-4.2,-4.1,-4,-3.9,-3.8,-3.7,-3.6,-3.5,-3.4,-3.3,-3.2,-3.1,-3,-2.9,-2.8,-2.7,-2.6,-2.5,-2.4,-2.3,-2.2,-2.1,-2,-1.9,-1.8,-1.7,-1.6,-1.5,-1.4,-1.3,-1.2,-1.1,-1,-0.9,-0.8,-0.7,-0.6,-0.5,-0.4,-0.3,-0.2,-0.1,0,0.1,0.2,0.3,0.4,0.5,0.6,0.7,0.8,0.9,1,1.1,1.2,1.3,1.4],"labels":false,"tickSize":3,"offset":-3,"title":null,"zindex":1}},
"y":{"field":"p","type":"quantitative","scale":{"type":"log","domain":[2.1e-5,2],"nice":false},"axis":{"orient":"right","values":[3e-5,4e-5,5e-5,6e-5,7e-5,8e-5,9e-5,2e-4,3e-4,4e-4,5e-4,6e-4,7e-4,8e-4,9e-4,2e-3,3e-3,4e-3,5e-3,6e-3,7e-3,8e-3,9e-3,0.02,0.03,0.04,0.05,0.06,0.07,0.08,0.09,0.2,0.3,0.4,0.5,0.6,0.7,0.8,0.9],"labels":false,"tickSize":3.5,"offset":-3.5,"title":null,"zindex":1}}}}
],
"resolve":{"axis":{"x":"independent","y":"independent"}}},

{"width":195,"height":283,"title":"0.5 < z < 1.0","transform":[{"filter":"datum.z == 2"}],
"layer":[
{"mark":{"type":"area","interpolate":"monotone","clip":true,"opacity":0.3},
"encoding":{"x":{"field":"x","type":"quantitative","scale":{"domain":[-4.5,1.5],"nice":false,"zero":false},"axis":{"orient":"bottom","values":[-4,-3,-2,-1,0,1],"ticks":false,"labelExpr":"'' + datum.value","labelPadding":11,"title":null}},
"y":{"field":"l","type":"quantitative","scale":{"type":"log","domain":[2.1e-5,2],"nice":false},"axis":null},
"y2":{"field":"h"},
"color":{"field":"m","type":"nominal"}}},
{"mark":{"type":"line","interpolate":"monotone","clip":true,"strokeWidth":3},
"encoding":{"x":{"field":"x","type":"quantitative","scale":{"domain":[-4.5,1.5],"nice":false,"zero":false},"axis":{"orient":"bottom","values":[-4,-3,-2,-1,0,1],"labels":false,"tickSize":6,"offset":-6,"title":null,"zindex":1}},
"y":{"field":"p","type":"quantitative","scale":{"type":"log","domain":[2.1e-5,2],"nice":false},"axis":{"orient":"left","values":[0.0001,0.001,0.01,0.1,1],"labels":false,"tickSize":7,"offset":-7,"title":null,"zindex":1}},
"color":{"field":"m","type":"nominal"}}},
{"mark":{"type":"point","opacity":0,"clip":true},
"encoding":{"x":{"field":"x","type":"quantitative","scale":{"domain":[-4.5,1.5],"nice":false,"zero":false},"axis":{"orient":"bottom","values":[-4.4,-4.3,-4.2,-4.1,-4,-3.9,-3.8,-3.7,-3.6,-3.5,-3.4,-3.3,-3.2,-3.1,-3,-2.9,-2.8,-2.7,-2.6,-2.5,-2.4,-2.3,-2.2,-2.1,-2,-1.9,-1.8,-1.7,-1.6,-1.5,-1.4,-1.3,-1.2,-1.1,-1,-0.9,-0.8,-0.7,-0.6,-0.5,-0.4,-0.3,-0.2,-0.1,0,0.1,0.2,0.3,0.4,0.5,0.6,0.7,0.8,0.9,1,1.1,1.2,1.3,1.4],"labels":false,"tickSize":3,"offset":-3,"title":null,"zindex":1}},
"y":{"field":"p","type":"quantitative","scale":{"type":"log","domain":[2.1e-5,2],"nice":false},"axis":{"orient":"left","values":[3e-5,4e-5,5e-5,6e-5,7e-5,8e-5,9e-5,2e-4,3e-4,4e-4,5e-4,6e-4,7e-4,8e-4,9e-4,2e-3,3e-3,4e-3,5e-3,6e-3,7e-3,8e-3,9e-3,0.02,0.03,0.04,0.05,0.06,0.07,0.08,0.09,0.2,0.3,0.4,0.5,0.6,0.7,0.8,0.9],"labels":false,"tickSize":3.5,"offset":-3.5,"title":null,"zindex":1}}}},
{"mark":{"type":"point","opacity":0,"clip":true},
"encoding":{"x":{"field":"x","type":"quantitative","scale":{"domain":[-4.5,1.5],"nice":false,"zero":false},"axis":{"orient":"top","values":[-4,-3,-2,-1,0,1],"labels":false,"tickSize":6,"offset":-6,"title":null,"zindex":1}},
"y":{"field":"p","type":"quantitative","scale":{"type":"log","domain":[2.1e-5,2],"nice":false},"axis":{"orient":"right","values":[0.0001,0.001,0.01,0.1,1],"labels":false,"tickSize":7,"offset":-7,"title":null,"zindex":1}}}},
{"mark":{"type":"point","opacity":0,"clip":true},
"encoding":{"x":{"field":"x","type":"quantitative","scale":{"domain":[-4.5,1.5],"nice":false,"zero":false},"axis":{"orient":"top","values":[-4.4,-4.3,-4.2,-4.1,-4,-3.9,-3.8,-3.7,-3.6,-3.5,-3.4,-3.3,-3.2,-3.1,-3,-2.9,-2.8,-2.7,-2.6,-2.5,-2.4,-2.3,-2.2,-2.1,-2,-1.9,-1.8,-1.7,-1.6,-1.5,-1.4,-1.3,-1.2,-1.1,-1,-0.9,-0.8,-0.7,-0.6,-0.5,-0.4,-0.3,-0.2,-0.1,0,0.1,0.2,0.3,0.4,0.5,0.6,0.7,0.8,0.9,1,1.1,1.2,1.3,1.4],"labels":false,"tickSize":3,"offset":-3,"title":null,"zindex":1}},
"y":{"field":"p","type":"quantitative","scale":{"type":"log","domain":[2.1e-5,2],"nice":false},"axis":{"orient":"right","values":[3e-5,4e-5,5e-5,6e-5,7e-5,8e-5,9e-5,2e-4,3e-4,4e-4,5e-4,6e-4,7e-4,8e-4,9e-4,2e-3,3e-3,4e-3,5e-3,6e-3,7e-3,8e-3,9e-3,0.02,0.03,0.04,0.05,0.06,0.07,0.08,0.09,0.2,0.3,0.4,0.5,0.6,0.7,0.8,0.9],"labels":false,"tickSize":3.5,"offset":-3.5,"title":null,"zindex":1}}}}
],
"resolve":{"axis":{"x":"independent","y":"independent"}}},

{"width":195,"height":283,"title":"1.0 < z < 1.5","transform":[{"filter":"datum.z == 3"}],
"layer":[
{"mark":{"type":"area","interpolate":"monotone","clip":true,"opacity":0.3},
"encoding":{"x":{"field":"x","type":"quantitative","scale":{"domain":[-4.5,1.5],"nice":false,"zero":false},"axis":{"orient":"bottom","values":[-4,-3,-2,-1,0,1],"ticks":false,"labelExpr":"'' + datum.value","labelPadding":11,"title":null}},
"y":{"field":"l","type":"quantitative","scale":{"type":"log","domain":[2.1e-5,2],"nice":false},"axis":null},
"y2":{"field":"h"},
"color":{"field":"m","type":"nominal"}}},
{"mark":{"type":"line","interpolate":"monotone","clip":true,"strokeWidth":3},
"encoding":{"x":{"field":"x","type":"quantitative","scale":{"domain":[-4.5,1.5],"nice":false,"zero":false},"axis":{"orient":"bottom","values":[-4,-3,-2,-1,0,1],"labels":false,"tickSize":6,"offset":-6,"title":null,"zindex":1}},
"y":{"field":"p","type":"quantitative","scale":{"type":"log","domain":[2.1e-5,2],"nice":false},"axis":{"orient":"left","values":[0.0001,0.001,0.01,0.1,1],"labels":false,"tickSize":7,"offset":-7,"title":null,"zindex":1}},
"color":{"field":"m","type":"nominal"}}},
{"mark":{"type":"point","opacity":0,"clip":true},
"encoding":{"x":{"field":"x","type":"quantitative","scale":{"domain":[-4.5,1.5],"nice":false,"zero":false},"axis":{"orient":"bottom","values":[-4.4,-4.3,-4.2,-4.1,-4,-3.9,-3.8,-3.7,-3.6,-3.5,-3.4,-3.3,-3.2,-3.1,-3,-2.9,-2.8,-2.7,-2.6,-2.5,-2.4,-2.3,-2.2,-2.1,-2,-1.9,-1.8,-1.7,-1.6,-1.5,-1.4,-1.3,-1.2,-1.1,-1,-0.9,-0.8,-0.7,-0.6,-0.5,-0.4,-0.3,-0.2,-0.1,0,0.1,0.2,0.3,0.4,0.5,0.6,0.7,0.8,0.9,1,1.1,1.2,1.3,1.4],"labels":false,"tickSize":3,"offset":-3,"title":null,"zindex":1}},
"y":{"field":"p","type":"quantitative","scale":{"type":"log","domain":[2.1e-5,2],"nice":false},"axis":{"orient":"left","values":[3e-5,4e-5,5e-5,6e-5,7e-5,8e-5,9e-5,2e-4,3e-4,4e-4,5e-4,6e-4,7e-4,8e-4,9e-4,2e-3,3e-3,4e-3,5e-3,6e-3,7e-3,8e-3,9e-3,0.02,0.03,0.04,0.05,0.06,0.07,0.08,0.09,0.2,0.3,0.4,0.5,0.6,0.7,0.8,0.9],"labels":false,"tickSize":3.5,"offset":-3.5,"title":null,"zindex":1}}}},
{"mark":{"type":"point","opacity":0,"clip":true},
"encoding":{"x":{"field":"x","type":"quantitative","scale":{"domain":[-4.5,1.5],"nice":false,"zero":false},"axis":{"orient":"top","values":[-4,-3,-2,-1,0,1],"labels":false,"tickSize":6,"offset":-6,"title":null,"zindex":1}},
"y":{"field":"p","type":"quantitative","scale":{"type":"log","domain":[2.1e-5,2],"nice":false},"axis":{"orient":"right","values":[0.0001,0.001,0.01,0.1,1],"labels":false,"tickSize":7,"offset":-7,"title":null,"zindex":1}}}},
{"mark":{"type":"point","opacity":0,"clip":true},
"encoding":{"x":{"field":"x","type":"quantitative","scale":{"domain":[-4.5,1.5],"nice":false,"zero":false},"axis":{"orient":"top","values":[-4.4,-4.3,-4.2,-4.1,-4,-3.9,-3.8,-3.7,-3.6,-3.5,-3.4,-3.3,-3.2,-3.1,-3,-2.9,-2.8,-2.7,-2.6,-2.5,-2.4,-2.3,-2.2,-2.1,-2,-1.9,-1.8,-1.7,-1.6,-1.5,-1.4,-1.3,-1.2,-1.1,-1,-0.9,-0.8,-0.7,-0.6,-0.5,-0.4,-0.3,-0.2,-0.1,0,0.1,0.2,0.3,0.4,0.5,0.6,0.7,0.8,0.9,1,1.1,1.2,1.3,1.4],"labels":false,"tickSize":3,"offset":-3,"title":null,"zindex":1}},
"y":{"field":"p","type":"quantitative","scale":{"type":"log","domain":[2.1e-5,2],"nice":false},"axis":{"orient":"right","values":[3e-5,4e-5,5e-5,6e-5,7e-5,8e-5,9e-5,2e-4,3e-4,4e-4,5e-4,6e-4,7e-4,8e-4,9e-4,2e-3,3e-3,4e-3,5e-3,6e-3,7e-3,8e-3,9e-3,0.02,0.03,0.04,0.05,0.06,0.07,0.08,0.09,0.2,0.3,0.4,0.5,0.6,0.7,0.8,0.9],"labels":false,"tickSize":3.5,"offset":-3.5,"title":null,"zindex":1}}}}
],
"resolve":{"axis":{"x":"independent","y":"independent"}}},

{"width":195,"height":283,"title":"1.5 < z < 2.0","transform":[{"filter":"datum.z == 4"}],
"layer":[
{"mark":{"type":"area","interpolate":"monotone","clip":true,"opacity":0.3},
"encoding":{"x":{"field":"x","type":"quantitative","scale":{"domain":[-4.5,1.5],"nice":false,"zero":false},"axis":{"orient":"bottom","values":[-4,-3,-2,-1,0,1],"ticks":false,"labelExpr":"'' + datum.value","labelPadding":11,"title":"log BHAR/SFR ∝ Lₓ/SFR","titleFontSize":22,"titlePadding":48,"titleX":195,"titleAlign":"center"}},
"y":{"field":"l","type":"quantitative","scale":{"type":"log","domain":[2.1e-5,2],"nice":false},"axis":null},
"y2":{"field":"h"},
"color":{"field":"m","type":"nominal"}}},
{"mark":{"type":"line","interpolate":"monotone","clip":true,"strokeWidth":3},
"encoding":{"x":{"field":"x","type":"quantitative","scale":{"domain":[-4.5,1.5],"nice":false,"zero":false},"axis":{"orient":"bottom","values":[-4,-3,-2,-1,0,1],"labels":false,"tickSize":6,"offset":-6,"title":null,"zindex":1}},
"y":{"field":"p","type":"quantitative","scale":{"type":"log","domain":[2.1e-5,2],"nice":false},"axis":{"orient":"left","values":[0.0001,0.001,0.01,0.1,1],"labels":false,"tickSize":7,"offset":-7,"title":null,"zindex":1}},
"color":{"field":"m","type":"nominal"}}},
{"mark":{"type":"point","opacity":0,"clip":true},
"encoding":{"x":{"field":"x","type":"quantitative","scale":{"domain":[-4.5,1.5],"nice":false,"zero":false},"axis":{"orient":"bottom","values":[-4.4,-4.3,-4.2,-4.1,-4,-3.9,-3.8,-3.7,-3.6,-3.5,-3.4,-3.3,-3.2,-3.1,-3,-2.9,-2.8,-2.7,-2.6,-2.5,-2.4,-2.3,-2.2,-2.1,-2,-1.9,-1.8,-1.7,-1.6,-1.5,-1.4,-1.3,-1.2,-1.1,-1,-0.9,-0.8,-0.7,-0.6,-0.5,-0.4,-0.3,-0.2,-0.1,0,0.1,0.2,0.3,0.4,0.5,0.6,0.7,0.8,0.9,1,1.1,1.2,1.3,1.4],"labels":false,"tickSize":3,"offset":-3,"title":null,"zindex":1}},
"y":{"field":"p","type":"quantitative","scale":{"type":"log","domain":[2.1e-5,2],"nice":false},"axis":{"orient":"left","values":[3e-5,4e-5,5e-5,6e-5,7e-5,8e-5,9e-5,2e-4,3e-4,4e-4,5e-4,6e-4,7e-4,8e-4,9e-4,2e-3,3e-3,4e-3,5e-3,6e-3,7e-3,8e-3,9e-3,0.02,0.03,0.04,0.05,0.06,0.07,0.08,0.09,0.2,0.3,0.4,0.5,0.6,0.7,0.8,0.9],"labels":false,"tickSize":3.5,"offset":-3.5,"title":null,"zindex":1}}}},
{"mark":{"type":"point","opacity":0,"clip":true},
"encoding":{"x":{"field":"x","type":"quantitative","scale":{"domain":[-4.5,1.5],"nice":false,"zero":false},"axis":{"orient":"top","values":[-4,-3,-2,-1,0,1],"labels":false,"tickSize":6,"offset":-6,"title":null,"zindex":1}},
"y":{"field":"p","type":"quantitative","scale":{"type":"log","domain":[2.1e-5,2],"nice":false},"axis":{"orient":"right","values":[0.0001,0.001,0.01,0.1,1],"labels":false,"tickSize":7,"offset":-7,"title":null,"zindex":1}}}},
{"mark":{"type":"point","opacity":0,"clip":true},
"encoding":{"x":{"field":"x","type":"quantitative","scale":{"domain":[-4.5,1.5],"nice":false,"zero":false},"axis":{"orient":"top","values":[-4.4,-4.3,-4.2,-4.1,-4,-3.9,-3.8,-3.7,-3.6,-3.5,-3.4,-3.3,-3.2,-3.1,-3,-2.9,-2.8,-2.7,-2.6,-2.5,-2.4,-2.3,-2.2,-2.1,-2,-1.9,-1.8,-1.7,-1.6,-1.5,-1.4,-1.3,-1.2,-1.1,-1,-0.9,-0.8,-0.7,-0.6,-0.5,-0.4,-0.3,-0.2,-0.1,0,0.1,0.2,0.3,0.4,0.5,0.6,0.7,0.8,0.9,1,1.1,1.2,1.3,1.4],"labels":false,"tickSize":3,"offset":-3,"title":null,"zindex":1}},
"y":{"field":"p","type":"quantitative","scale":{"type":"log","domain":[2.1e-5,2],"nice":false},"axis":{"orient":"right","values":[3e-5,4e-5,5e-5,6e-5,7e-5,8e-5,9e-5,2e-4,3e-4,4e-4,5e-4,6e-4,7e-4,8e-4,9e-4,2e-3,3e-3,4e-3,5e-3,6e-3,7e-3,8e-3,9e-3,0.02,0.03,0.04,0.05,0.06,0.07,0.08,0.09,0.2,0.3,0.4,0.5,0.6,0.7,0.8,0.9],"labels":false,"tickSize":3.5,"offset":-3.5,"title":null,"zindex":1}}}}
],
"resolve":{"axis":{"x":"independent","y":"independent"}}},

{"width":195,"height":283,"title":"2.0 < z < 2.5","transform":[{"filter":"datum.z == 5"}],
"layer":[
{"mark":{"type":"area","interpolate":"monotone","clip":true,"opacity":0.3},
"encoding":{"x":{"field":"x","type":"quantitative","scale":{"domain":[-4.5,1.5],"nice":false,"zero":false},"axis":{"orient":"bottom","values":[-4,-3,-2,-1,0,1],"ticks":false,"labelExpr":"'' + datum.value","labelPadding":11,"title":null}},
"y":{"field":"l","type":"quantitative","scale":{"type":"log","domain":[2.1e-5,2],"nice":false},"axis":null},
"y2":{"field":"h"},
"color":{"field":"m","type":"nominal"}}},
{"mark":{"type":"line","interpolate":"monotone","clip":true,"strokeWidth":3},
"encoding":{"x":{"field":"x","type":"quantitative","scale":{"domain":[-4.5,1.5],"nice":false,"zero":false},"axis":{"orient":"bottom","values":[-4,-3,-2,-1,0,1],"labels":false,"tickSize":6,"offset":-6,"title":null,"zindex":1}},
"y":{"field":"p","type":"quantitative","scale":{"type":"log","domain":[2.1e-5,2],"nice":false},"axis":{"orient":"left","values":[0.0001,0.001,0.01,0.1,1],"labels":false,"tickSize":7,"offset":-7,"title":null,"zindex":1}},
"color":{"field":"m","type":"nominal"}}},
{"mark":{"type":"point","opacity":0,"clip":true},
"encoding":{"x":{"field":"x","type":"quantitative","scale":{"domain":[-4.5,1.5],"nice":false,"zero":false},"axis":{"orient":"bottom","values":[-4.4,-4.3,-4.2,-4.1,-4,-3.9,-3.8,-3.7,-3.6,-3.5,-3.4,-3.3,-3.2,-3.1,-3,-2.9,-2.8,-2.7,-2.6,-2.5,-2.4,-2.3,-2.2,-2.1,-2,-1.9,-1.8,-1.7,-1.6,-1.5,-1.4,-1.3,-1.2,-1.1,-1,-0.9,-0.8,-0.7,-0.6,-0.5,-0.4,-0.3,-0.2,-0.1,0,0.1,0.2,0.3,0.4,0.5,0.6,0.7,0.8,0.9,1,1.1,1.2,1.3,1.4],"labels":false,"tickSize":3,"offset":-3,"title":null,"zindex":1}},
"y":{"field":"p","type":"quantitative","scale":{"type":"log","domain":[2.1e-5,2],"nice":false},"axis":{"orient":"left","values":[3e-5,4e-5,5e-5,6e-5,7e-5,8e-5,9e-5,2e-4,3e-4,4e-4,5e-4,6e-4,7e-4,8e-4,9e-4,2e-3,3e-3,4e-3,5e-3,6e-3,7e-3,8e-3,9e-3,0.02,0.03,0.04,0.05,0.06,0.07,0.08,0.09,0.2,0.3,0.4,0.5,0.6,0.7,0.8,0.9],"labels":false,"tickSize":3.5,"offset":-3.5,"title":null,"zindex":1}}}},
{"mark":{"type":"point","opacity":0,"clip":true},
"encoding":{"x":{"field":"x","type":"quantitative","scale":{"domain":[-4.5,1.5],"nice":false,"zero":false},"axis":{"orient":"top","values":[-4,-3,-2,-1,0,1],"labels":false,"tickSize":6,"offset":-6,"title":null,"zindex":1}},
"y":{"field":"p","type":"quantitative","scale":{"type":"log","domain":[2.1e-5,2],"nice":false},"axis":{"orient":"right","values":[0.0001,0.001,0.01,0.1,1],"labels":false,"tickSize":7,"offset":-7,"title":null,"zindex":1}}}},
{"mark":{"type":"point","opacity":0,"clip":true},
"encoding":{"x":{"field":"x","type":"quantitative","scale":{"domain":[-4.5,1.5],"nice":false,"zero":false},"axis":{"orient":"top","values":[-4.4,-4.3,-4.2,-4.1,-4,-3.9,-3.8,-3.7,-3.6,-3.5,-3.4,-3.3,-3.2,-3.1,-3,-2.9,-2.8,-2.7,-2.6,-2.5,-2.4,-2.3,-2.2,-2.1,-2,-1.9,-1.8,-1.7,-1.6,-1.5,-1.4,-1.3,-1.2,-1.1,-1,-0.9,-0.8,-0.7,-0.6,-0.5,-0.4,-0.3,-0.2,-0.1,0,0.1,0.2,0.3,0.4,0.5,0.6,0.7,0.8,0.9,1,1.1,1.2,1.3,1.4],"labels":false,"tickSize":3,"offset":-3,"title":null,"zindex":1}},
"y":{"field":"p","type":"quantitative","scale":{"type":"log","domain":[2.1e-5,2],"nice":false},"axis":{"orient":"right","values":[3e-5,4e-5,5e-5,6e-5,7e-5,8e-5,9e-5,2e-4,3e-4,4e-4,5e-4,6e-4,7e-4,8e-4,9e-4,2e-3,3e-3,4e-3,5e-3,6e-3,7e-3,8e-3,9e-3,0.02,0.03,0.04,0.05,0.06,0.07,0.08,0.09,0.2,0.3,0.4,0.5,0.6,0.7,0.8,0.9],"labels":false,"tickSize":3.5,"offset":-3.5,"title":null,"zindex":1}}}}
],
"resolve":{"axis":{"x":"independent","y":"independent"}}},

{"width":195,"height":283,"title":"2.5 < z < 3.0","transform":[{"filter":"datum.z == 6"}],
"layer":[
{"mark":{"type":"area","interpolate":"monotone","clip":true,"opacity":0.3},
"encoding":{"x":{"field":"x","type":"quantitative","scale":{"domain":[-4.5,1.5],"nice":false,"zero":false},"axis":{"orient":"bottom","values":[-4,-3,-2,-1,0,1],"ticks":false,"labelExpr":"'' + datum.value","labelPadding":11,"title":null}},
"y":{"field":"l","type":"quantitative","scale":{"type":"log","domain":[2.1e-5,2],"nice":false},"axis":null},
"y2":{"field":"h"},
"color":{"field":"m","type":"nominal"}}},
{"mark":{"type":"line","interpolate":"monotone","clip":true,"strokeWidth":3},
"encoding":{"x":{"field":"x","type":"quantitative","scale":{"domain":[-4.5,1.5],"nice":false,"zero":false},"axis":{"orient":"bottom","values":[-4,-3,-2,-1,0,1],"labels":false,"tickSize":6,"offset":-6,"title":null,"zindex":1}},
"y":{"field":"p","type":"quantitative","scale":{"type":"log","domain":[2.1e-5,2],"nice":false},"axis":{"orient":"left","values":[0.0001,0.001,0.01,0.1,1],"labels":false,"tickSize":7,"offset":-7,"title":null,"zindex":1}},
"color":{"field":"m","type":"nominal"}}},
{"mark":{"type":"point","opacity":0,"clip":true},
"encoding":{"x":{"field":"x","type":"quantitative","scale":{"domain":[-4.5,1.5],"nice":false,"zero":false},"axis":{"orient":"bottom","values":[-4.4,-4.3,-4.2,-4.1,-4,-3.9,-3.8,-3.7,-3.6,-3.5,-3.4,-3.3,-3.2,-3.1,-3,-2.9,-2.8,-2.7,-2.6,-2.5,-2.4,-2.3,-2.2,-2.1,-2,-1.9,-1.8,-1.7,-1.6,-1.5,-1.4,-1.3,-1.2,-1.1,-1,-0.9,-0.8,-0.7,-0.6,-0.5,-0.4,-0.3,-0.2,-0.1,0,0.1,0.2,0.3,0.4,0.5,0.6,0.7,0.8,0.9,1,1.1,1.2,1.3,1.4],"labels":false,"tickSize":3,"offset":-3,"title":null,"zindex":1}},
"y":{"field":"p","type":"quantitative","scale":{"type":"log","domain":[2.1e-5,2],"nice":false},"axis":{"orient":"left","values":[3e-5,4e-5,5e-5,6e-5,7e-5,8e-5,9e-5,2e-4,3e-4,4e-4,5e-4,6e-4,7e-4,8e-4,9e-4,2e-3,3e-3,4e-3,5e-3,6e-3,7e-3,8e-3,9e-3,0.02,0.03,0.04,0.05,0.06,0.07,0.08,0.09,0.2,0.3,0.4,0.5,0.6,0.7,0.8,0.9],"labels":false,"tickSize":3.5,"offset":-3.5,"title":null,"zindex":1}}}},
{"mark":{"type":"point","opacity":0,"clip":true},
"encoding":{"x":{"field":"x","type":"quantitative","scale":{"domain":[-4.5,1.5],"nice":false,"zero":false},"axis":{"orient":"top","values":[-4,-3,-2,-1,0,1],"labels":false,"tickSize":6,"offset":-6,"title":null,"zindex":1}},
"y":{"field":"p","type":"quantitative","scale":{"type":"log","domain":[2.1e-5,2],"nice":false},"axis":{"orient":"right","values":[0.0001,0.001,0.01,0.1,1],"labels":false,"tickSize":7,"offset":-7,"zindex":1,"title":"Star-forming","titleFontSize":28,"titlePadding":7,"titleAngle":90,"titleBaseline":"bottom","titleY":103}}}},
{"mark":{"type":"point","opacity":0,"clip":true},
"encoding":{"x":{"field":"x","type":"quantitative","scale":{"domain":[-4.5,1.5],"nice":false,"zero":false},"axis":{"orient":"top","values":[-4.4,-4.3,-4.2,-4.1,-4,-3.9,-3.8,-3.7,-3.6,-3.5,-3.4,-3.3,-3.2,-3.1,-3,-2.9,-2.8,-2.7,-2.6,-2.5,-2.4,-2.3,-2.2,-2.1,-2,-1.9,-1.8,-1.7,-1.6,-1.5,-1.4,-1.3,-1.2,-1.1,-1,-0.9,-0.8,-0.7,-0.6,-0.5,-0.4,-0.3,-0.2,-0.1,0,0.1,0.2,0.3,0.4,0.5,0.6,0.7,0.8,0.9,1,1.1,1.2,1.3,1.4],"labels":false,"tickSize":3,"offset":-3,"title":null,"zindex":1}},
"y":{"field":"p","type":"quantitative","scale":{"type":"log","domain":[2.1e-5,2],"nice":false},"axis":{"orient":"right","values":[3e-5,4e-5,5e-5,6e-5,7e-5,8e-5,9e-5,2e-4,3e-4,4e-4,5e-4,6e-4,7e-4,8e-4,9e-4,2e-3,3e-3,4e-3,5e-3,6e-3,7e-3,8e-3,9e-3,0.02,0.03,0.04,0.05,0.06,0.07,0.08,0.09,0.2,0.3,0.4,0.5,0.6,0.7,0.8,0.9],"labels":false,"tickSize":3.5,"offset":-3.5,"title":null,"zindex":1}}}}
],
"resolve":{"axis":{"x":"independent","y":"independent"}}}
],
"config": {
"view": {"stroke": "black", "strokeWidth": 1.5},
"title": {"font": "Liberation Sans", "fontSize": 23, "fontWeight": "normal", "color": "black", "offset": 4},
"axis": {"domain": false, "grid": false, "tickColor": "black", "tickWidth": 1, "labelColor": "black", "labelFont": "Liberation Sans", "labelFontSize": 14, "titleFont": "Liberation Sans", "titleFontWeight": "normal", "titleColor": "black"}
}
}
